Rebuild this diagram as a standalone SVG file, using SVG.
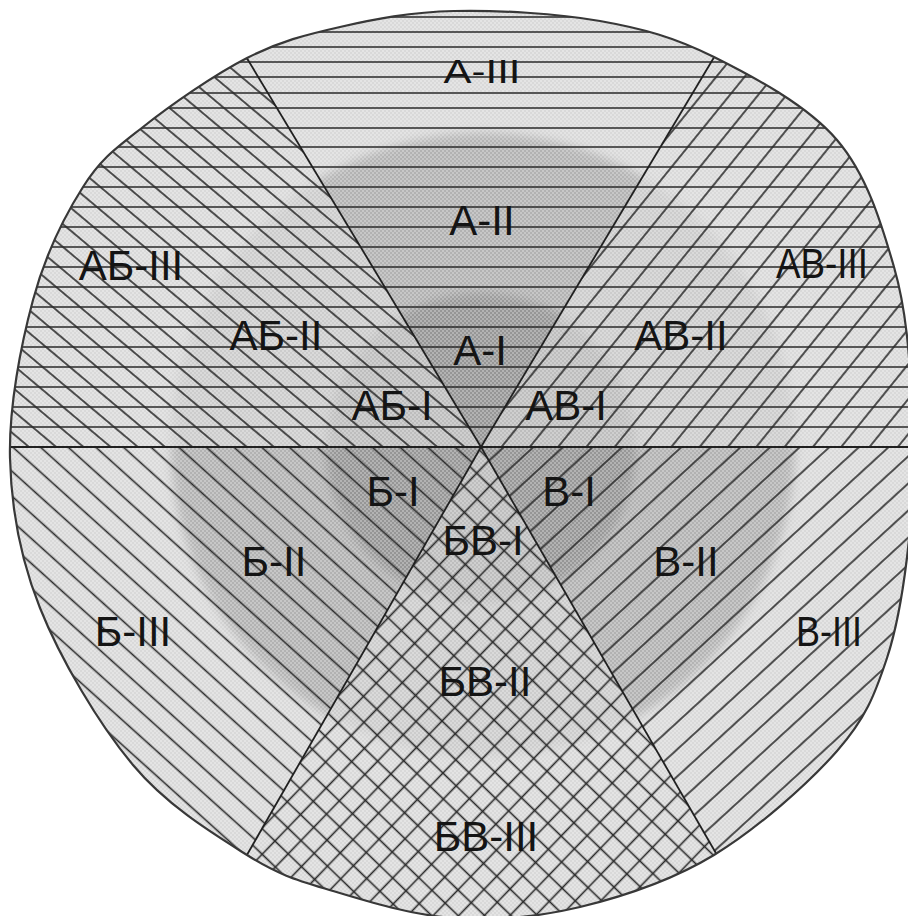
<svg xmlns="http://www.w3.org/2000/svg" width="908" height="916" viewBox="0 0 908 916">
<style>
  .hatch { stroke:#2a2a2a; stroke-width:1.6; fill:none; }
  .sep { stroke:#202020; stroke-width:1.8; fill:none; }
  .outline { fill:none; stroke:#383838; stroke-width:2.2; }
  .lbl { font-family:"Liberation Sans", Arial, sans-serif; font-size:42px; fill:#141414; text-anchor:middle; }
</style>
<defs>
  <path id="diskPath" d="M454,11 C497.3,10 556.7,13.3 600,21 C643.3,28.7 674.5,37.2 714,57 C753.5,76.8 807,105 837,140 C867,175 881.5,223.7 894,267 C906.5,310.3 909.3,356.2 912,400 C914.7,443.8 914.2,487 910,530 C905.8,573 899.2,621.2 887,658 C874.8,694.8 865.8,718.2 837,751 C808.2,783.8 756.8,829 714,855 C671.2,881 623.3,896.5 580,907 C536.7,917.5 495.2,920.7 454,918 C412.8,915.3 367.5,901.5 333,891 C298.5,880.5 280.3,876 247,855 C213.7,834 167.5,806.2 133,765 C98.5,723.8 60.5,659.2 40,608 C19.5,556.8 11.2,509.3 10,458 C8.8,406.7 20.8,345.2 33,300 C45.2,254.8 64.7,215.8 83,187 C101.3,158.2 115.7,148.5 143,127 C170.3,105.5 214.2,74.7 247,58 C279.8,41.3 305.5,34.8 340,27 C374.5,19.2 410.7,12 454,11 Z"/>
  <clipPath id="disk"><use href="#diskPath"/></clipPath>
  <clipPath id="cA"><polygon points="481,447 200,-20 761,-21"/></clipPath>
  <clipPath id="cAB"><polygon points="481,447 200,-20 -20,-20 -20,447"/></clipPath>
  <clipPath id="cAV"><polygon points="481,447 761,-21 930,-21 930,447"/></clipPath>
  <clipPath id="cB"><polygon points="481,447 -20,447 -20,960 189,957"/></clipPath>
  <clipPath id="cBV"><polygon points="481,447 189,957 776,957"/></clipPath>
  <clipPath id="cV"><polygon points="481,447 776,957 930,957 930,447"/></clipPath>
  <clipPath id="cPure">
    <polygon points="481,447 200,-20 761,-21"/>
    <polygon points="481,447 -20,447 -20,960 189,957"/>
    <polygon points="481,447 776,957 930,957 930,447"/>
  </clipPath>
  <clipPath id="cMixed">
    <polygon points="481,447 200,-20 -20,-20 -20,447"/>
    <polygon points="481,447 761,-21 930,-21 930,447"/>
    <polygon points="481,447 189,957 776,957"/>
  </clipPath>
  <filter id="soft" x="-20%" y="-20%" width="140%" height="140%"><feGaussianBlur stdDeviation="5"/></filter>
  <pattern id="dots" patternUnits="userSpaceOnUse" width="4" height="4">
    <rect x="0" y="0" width="2" height="2" fill="#fff" opacity="0.28"/>
    <rect x="2" y="2" width="2" height="2" fill="#fff" opacity="0.28"/>
  </pattern>
  <pattern id="pAB" patternUnits="userSpaceOnUse" width="10" height="17.5" patternTransform="rotate(40)">
    <line x1="-1" y1="8.75" x2="11" y2="8.75" class="hatch"/>
  </pattern>
  <pattern id="pAV" patternUnits="userSpaceOnUse" width="10" height="22" patternTransform="rotate(-51)">
    <line x1="-1" y1="11" x2="11" y2="11" class="hatch"/>
  </pattern>
  <pattern id="pB" patternUnits="userSpaceOnUse" width="10" height="18.5" patternTransform="rotate(42)">
    <line x1="-1" y1="9.25" x2="11" y2="9.25" class="hatch"/>
  </pattern>
  <pattern id="pV" patternUnits="userSpaceOnUse" width="10" height="20" patternTransform="rotate(-42.5)">
    <line x1="-1" y1="10" x2="11" y2="10" class="hatch"/>
  </pattern>
  <pattern id="pBV1" patternUnits="userSpaceOnUse" width="10" height="18.4" patternTransform="rotate(44)">
    <line x1="-1" y1="9.2" x2="11" y2="9.2" class="hatch" stroke-width="1.3"/>
  </pattern>
  <pattern id="pBV2" patternUnits="userSpaceOnUse" width="10" height="18.4" patternTransform="rotate(-46)">
    <line x1="-1" y1="9.2" x2="11" y2="9.2" class="hatch" stroke-width="1.3"/>
  </pattern>
  <path id="hlines" class="hatch" d="M0,17H910M0,32H910M0,47H910M0,62H910M0,77H910M0,93H910M0,108H910M0,128H910M0,147H910M0,167H910M0,187H910M0,207H910M0,227H910M0,247H910M0,267H910M0,287H910M0,307H910M0,327H910M0,347H910M0,367H910M0,387H910M0,407H910M0,427H910"/>
</defs>

<g id="shading" clip-path="url(#disk)">
  <use href="#diskPath" fill="#d9d9d9"/>
  <g clip-path="url(#cPure)">
    <circle cx="483" cy="445" r="312" fill="#b2b2b2" filter="url(#soft)"/>
    <circle cx="481" cy="448" r="155" fill="#969696" filter="url(#soft)"/>
  </g>
  <g clip-path="url(#cMixed)">
    <circle cx="483" cy="445" r="312" fill="#cccccc" filter="url(#soft)"/>
    <circle cx="481" cy="448" r="155" fill="#bdbdbd" filter="url(#soft)"/>
  </g>
  <rect x="0" y="0" width="908" height="916" fill="url(#dots)"/>
</g>

<g clip-path="url(#disk)">
  <g id="sector-A" clip-path="url(#cA)">
    <use href="#hlines"/>
  </g>
  <g id="sector-AB" clip-path="url(#cAB)">
    <use href="#hlines"/>
    <rect x="0" y="0" width="908" height="460" fill="url(#pAB)"/>
  </g>
  <g id="sector-AV" clip-path="url(#cAV)">
    <use href="#hlines"/>
    <rect x="400" y="0" width="508" height="460" fill="url(#pAV)"/>
  </g>
  <g id="sector-B" clip-path="url(#cB)">
    <rect x="0" y="440" width="500" height="476" fill="url(#pB)"/>
  </g>
  <g id="sector-BV" clip-path="url(#cBV)">
    <rect x="180" y="440" width="600" height="476" fill="url(#pBV1)"/>
    <rect x="180" y="440" width="600" height="476" fill="url(#pBV2)"/>
  </g>
  <g id="sector-V" clip-path="url(#cV)">
    <rect x="460" y="440" width="448" height="476" fill="url(#pV)"/>
  </g>
</g>

<g id="connectors" clip-path="url(#disk)">
  <line class="sep" x1="0" y1="447" x2="910" y2="447"/>
  <line class="sep" x1="236" y1="40" x2="481" y2="447"/>
  <line class="sep" x1="725" y1="39" x2="481" y2="447"/>
  <line class="sep" x1="481" y1="447" x2="236" y2="874"/>
  <line class="sep" x1="481" y1="447" x2="728" y2="874"/>
</g>
<use href="#diskPath" class="outline"/>

<g id="labels">
  <g id="lbl-A-III"><text class="lbl" transform="translate(482,83) scale(1,0.77)">А-III</text></g>
  <g id="lbl-A-II"><text class="lbl" x="482" y="235">А-II</text></g>
  <g id="lbl-A-I"><text class="lbl" x="480" y="365">А-I</text></g>
  <g id="lbl-AB-III"><text class="lbl" x="131" y="280">АБ-III</text></g>
  <g id="lbl-AB-II"><text class="lbl" x="276" y="350">АБ-II</text></g>
  <g id="lbl-AB-I"><text class="lbl" x="392" y="420">АБ-I</text></g>
  <g id="lbl-AV-III"><text class="lbl" x="822" y="278" textLength="92" lengthAdjust="spacingAndGlyphs">АВ-III</text></g>
  <g id="lbl-AV-II"><text class="lbl" x="681" y="350">АВ-II</text></g>
  <g id="lbl-AV-I"><text class="lbl" x="566" y="420">АВ-I</text></g>
  <g id="lbl-B-I"><text class="lbl" x="393" y="506">Б-I</text></g>
  <g id="lbl-B-II"><text class="lbl" x="274" y="576">Б-II</text></g>
  <g id="lbl-B-III"><text class="lbl" x="133" y="646">Б-III</text></g>
  <g id="lbl-V-I"><text class="lbl" x="569" y="506">В-I</text></g>
  <g id="lbl-V-II"><text class="lbl" x="686" y="576">В-II</text></g>
  <g id="lbl-V-III"><text class="lbl" x="829" y="646" textLength="66" lengthAdjust="spacingAndGlyphs">В-III</text></g>
  <g id="lbl-BV-I"><text class="lbl" x="483" y="555">БВ-I</text></g>
  <g id="lbl-BV-II"><text class="lbl" x="485" y="696">БВ-II</text></g>
  <g id="lbl-BV-III"><text class="lbl" x="486" y="851">БВ-III</text></g>
</g>
</svg>
